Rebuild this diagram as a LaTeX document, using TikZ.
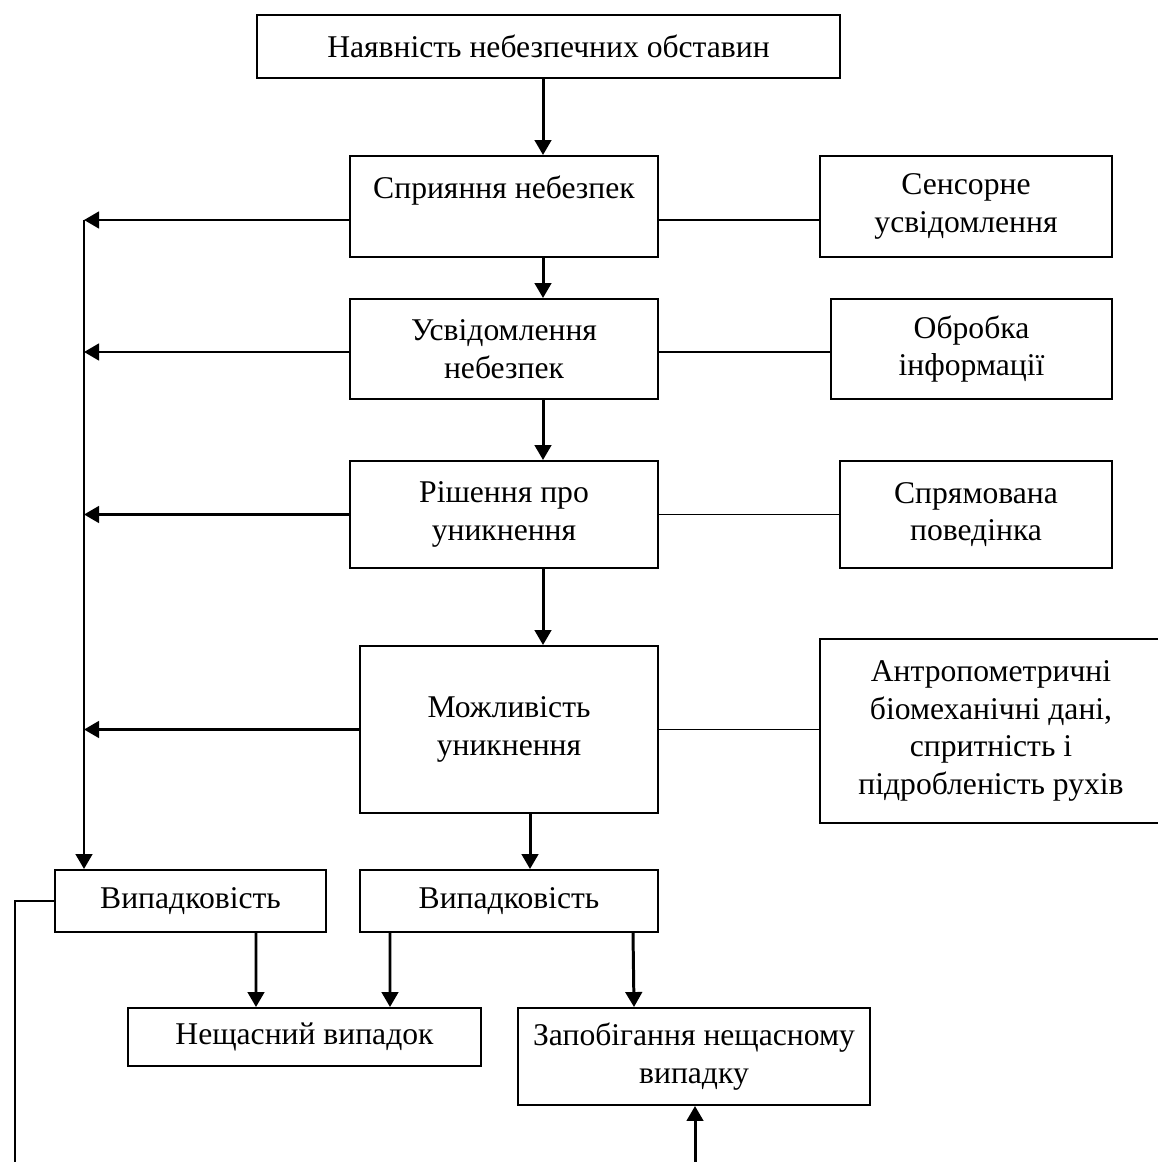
\documentclass[tikz,border=0pt]{standalone}
\usepackage{fontspec}
\setmainfont{Liberation Serif}
\usepackage{tikz}
\usetikzlibrary{arrows.meta,calc,positioning}

\begin{document}
\begin{tikzpicture}[
    box/.style={draw,line width=1.1pt,inner sep=0pt,align=center,
      font=\fontsize{18}{21.5}\selectfont},
    arr/.style={-{Triangle[length=3mm,width=3.3mm]},line width=1.7pt},
    link/.style={line width=1.1pt}]
  \useasboundingbox (0,0) rectangle (23.14,-23.24);
  % main chain
  \node[box,minimum width=11.66cm,minimum height=1.26cm] (top) at (10.97,-0.93) {Наявність небезпечних обставин};
  \node[box,minimum width=6.16cm,minimum height=2.02cm] (spr) at (10.08,-4.13) {Сприяння небезпек\\\mbox{}};
  \node[box,minimum width=6.16cm,minimum height=2.0cm] (usv) at (10.08,-6.98) {Усвідомлення\\небезпек};
  \node[box,minimum width=6.16cm,minimum height=2.14cm] (rish) at (10.08,-10.29) {Рішення про\\уникнення};
  \node[box,minimum width=5.96cm,minimum height=3.34cm] (mozh) at (10.18,-14.59) {Можливість\\уникнення};
  % side boxes
  \node[box,minimum width=5.84cm,minimum height=2.02cm] (sens) at (19.32,-4.13) {Сенсорне\\усвідомлення};
  \node[box,minimum width=5.62cm,minimum height=2.0cm] (obr) at (19.43,-6.98) {Обробка\\інформації};
  \node[box,minimum width=5.44cm,minimum height=2.14cm] (spryam) at (19.52,-10.29) {Спрямована\\поведінка};
  \node[box,minimum width=6.84cm,minimum height=3.68cm] (antr) at (19.82,-14.62) {Антропометричні\\біомеханічні дані,\\спритність і\\підробленість рухів};
  % outcomes
  \node[box,minimum width=5.42cm,minimum height=1.24cm] (vyp1) at (3.81,-18.02) {Випадковість};
  \node[box,minimum width=5.96cm,minimum height=1.24cm] (vyp2) at (10.18,-18.02) {Випадковість};
  \node[box,minimum width=7.06cm,minimum height=1.16cm] (nesh) at (6.09,-20.74) {Нещасний випадок};
  \node[box,minimum width=7.04cm,minimum height=1.94cm] (zapob) at (13.88,-21.13) {Запобігання нещасному\\випадку};
  % helper columns
  \coordinate (axis) at (10.86,0);
  \coordinate (bus) at (1.68,0);
  \coordinate (ret) at (0.3,-23.4);
  \coordinate (feed) at (13.9,-23.4);

  \draw[arr] (top.south -| axis) -- (spr.north -| axis);
  \draw[arr] (spr.south -| axis) -- (usv.north -| axis);
  \draw[arr] (usv.south -| axis) -- (rish.north -| axis);
  \draw[arr] (rish.south -| axis) -- (mozh.north -| axis);
  \draw[arr] ([xshift=4.2mm]mozh.south) -- ([xshift=4.2mm]vyp2.north);

  \draw[link] ([yshift=-2.7mm]spr.east) -- ([yshift=-2.7mm]spr.east -| sens.west);
  \draw[link] ([yshift=-0.6mm]usv.east) -- ([yshift=-0.6mm]usv.east -| obr.west);
  \draw[link] (rish.east) -- (spryam.west);
  \draw[link] (mozh.east) -- (mozh.east -| antr.west);

  \draw[arr] ([yshift=-2.7mm]spr.west) -- ([yshift=-2.7mm]spr.west -| bus);
  \draw[arr] ([yshift=-0.6mm]usv.west) -- ([yshift=-0.6mm]usv.west -| bus);
  \draw[arr] (rish.west) -- (rish.west -| bus);
  \draw[arr] (mozh.west) -- (mozh.west -| bus);
  \draw[arr] ([yshift=-2.7mm]spr.west -| bus) -- (vyp1.north -| bus);

  \draw[arr] ([xshift=1.31cm]vyp1.south) -- ([xshift=-0.97cm]nesh.north);
  \draw[arr] ([xshift=-2.38cm]vyp2.south) -- ([xshift=1.71cm]nesh.north);
  \draw[arr] ([xshift=2.48cm]vyp2.south) -- ([xshift=-1.2cm]zapob.north);

  \draw[link] (vyp1.west) -- (vyp1.west -| ret) -- (ret);
  \draw[arr] (feed) -- (zapob.south -| feed);
\end{tikzpicture}
\end{document}
